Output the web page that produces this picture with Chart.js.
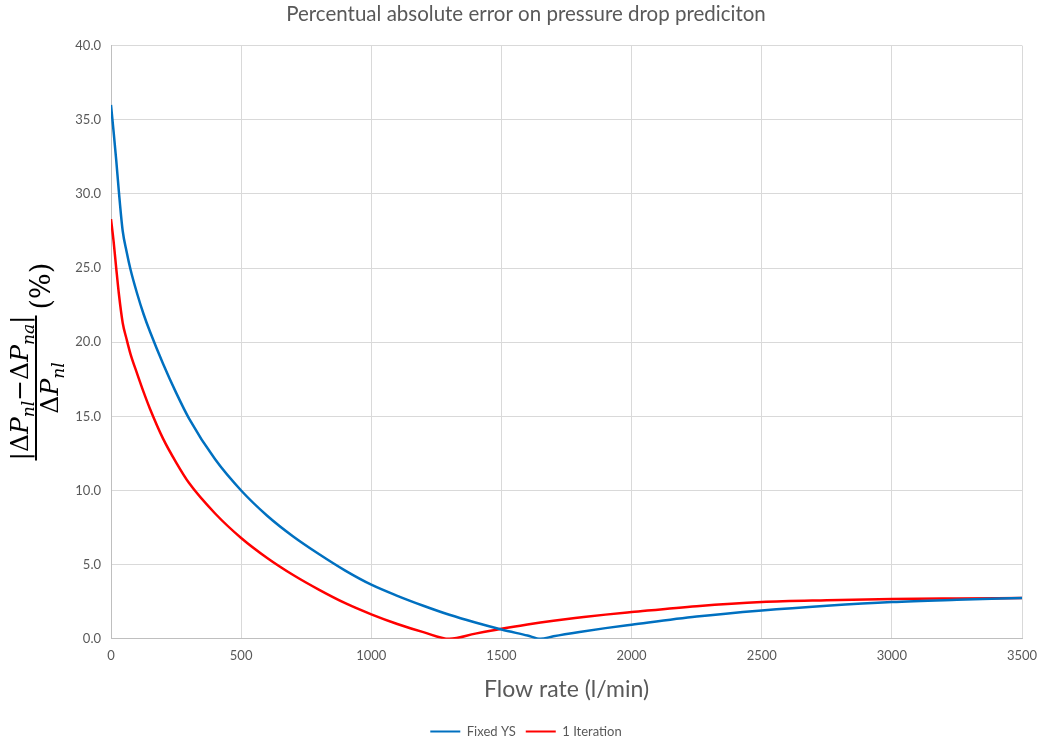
<!DOCTYPE html>
<html>
<head>
<meta charset="utf-8">
<script src="https://cdn.jsdelivr.net/npm/chart.js@4"></script>
<style>
  html, body { margin: 0; padding: 0; background: #fff; }
  #wrap { width: 1042px; height: 742px; }
</style>
</head>
<body>
<div id="wrap"><canvas id="errChart" width="1042" height="742"></canvas></div>
<script>
// Flow rate samples (l/min)
const flowRates = [0, 10, 20, 30, 45, 60, 75, 100, 125, 150, 200, 250, 300, 400, 500, 600, 700, 800, 900, 1000,
    1100, 1200, 1300, 1400, 1500, 1600, 1650, 1700, 1800, 1900, 2000, 2250, 2500, 2750, 3000, 3250, 3500];

// Percentual absolute error (%)
const fixedYS = [36.0, 34.2, 32.3, 30.2, 27.5, 26.1, 24.9, 23.3, 21.9, 20.7, 18.55, 16.6, 14.85, 12.1, 10.0, 8.3, 6.9, 5.7, 4.6, 3.65,
    2.9, 2.23, 1.62, 1.1, 0.63, 0.22, 0.0, 0.17, 0.46, 0.72, 0.95, 1.5, 1.91, 2.23, 2.48, 2.63, 2.75];
const oneIteration = [28.3, 26.8, 25.0, 23.3, 21.3, 20.2, 19.2, 17.9, 16.65, 15.5, 13.5, 11.9, 10.5, 8.45, 6.8, 5.45, 4.3, 3.3, 2.4, 1.65,
    1.0, 0.45, 0.0, 0.35, 0.68, 0.97, 1.1, 1.22, 1.43, 1.63, 1.8, 2.2, 2.48, 2.6, 2.68, 2.72, 2.75];

const seriesNames = ['Fixed YS', '1 Iteration'];
const titleText = 'Percentual absolute error on pressure drop prediciton';
const xTitle = 'Flow rate (l/min)';

const gray = '#595959';

// draws the y axis formula |ΔPnl−ΔPna| / ΔPnl (%) rotated
const yFormula = {
    id: 'yFormula',
    afterDraw(chart) {
        const ctx = chart.ctx;
        const main = 25, sub = 17;
        const reg = s => `${s}px "DejaVu Serif"`;
        const ita = s => `italic ${s}px "DejaVu Serif"`;
        const num = [
            ['|', reg(main), 0], ['Δ', reg(main), 0], ['P', ita(main), 0], ['nl', ita(sub), 6],
            ['−', reg(main), 0], ['Δ', reg(main), 0], ['P', ita(main), 0], ['na', ita(sub), 6], ['|', reg(main), 0]
        ];
        const den = [['Δ', reg(main), 0], ['P', ita(main), 0], ['nl', ita(sub), 6]];
        const width = parts => parts.reduce((w, p) => { ctx.font = p[1]; return w + ctx.measureText(p[0]).width; }, 0);
        const run = (parts, x, y) => {
            parts.forEach(p => {
                ctx.font = p[1];
                ctx.fillText(p[0], x, y + p[2]);
                x += ctx.measureText(p[0]).width;
            });
        };
        ctx.save();
        ctx.translate(36, 388);
        ctx.rotate(-Math.PI / 2);
        ctx.fillStyle = '#000';
        ctx.textBaseline = 'alphabetic';
        const nw = width(num);
        run(num, -nw / 2, -8);
        ctx.fillRect(-nw / 2, -1, nw, 2);
        const dw = width(den);
        run(den, -dw / 2, 22);
        ctx.font = reg(27);
        ctx.fillText('(%)', nw / 2 + 6, 14);
        ctx.restore();
    }
};

const ctx = document.getElementById('errChart').getContext('2d');
new Chart(ctx, {
    type: 'line',
    data: {
        datasets: [
            {
                label: seriesNames[0],
                data: flowRates.map((x, i) => ({ x: x, y: fixedYS[i] })),
                borderColor: '#0070C0',
                backgroundColor: '#0070C0',
                borderWidth: 2.5,
                pointRadius: 0,
                cubicInterpolationMode: 'monotone'
            },
            {
                label: seriesNames[1],
                data: flowRates.map((x, i) => ({ x: x, y: oneIteration[i] })),
                borderColor: '#FF0000',
                backgroundColor: '#FF0000',
                borderWidth: 2.5,
                pointRadius: 0,
                cubicInterpolationMode: 'monotone'
            }
        ]
    },
    options: {
        responsive: false,
        animation: false,
        layout: { padding: { left: 30, right: 20, top: 0, bottom: -6 } },
        plugins: {
            title: {
                display: true,
                text: titleText,
                color: gray,
                font: { family: 'Lato', size: 20.5, weight: 'normal' },
                padding: { top: 2, bottom: 19 }
            },
            legend: {
                position: 'bottom',
                labels: {
                    color: gray,
                    font: { family: 'Lato', size: 13 },
                    boxWidth: 30,
                    boxHeight: 2,
                    padding: 10,
                    generateLabels(chart) {
                        return Chart.defaults.plugins.legend.labels.generateLabels(chart).map(l => {
                            l.lineWidth = 0;
                            return l;
                        });
                    }
                }
            },
            tooltip: { enabled: false }
        },
        scales: {
            x: {
                type: 'linear',
                min: 0,
                max: 3500,
                ticks: { stepSize: 500, color: gray, font: { family: 'Lato', size: 13 }, padding: 9, maxRotation: 0, callback: v => String(v) },
                grid: { color: '#d9d9d9', drawTicks: false },
                border: { color: '#bfbfbf' },
                title: { display: true, text: xTitle, color: gray, font: { family: 'Lato', size: 23 }, padding: { top: 3, bottom: 12 } },
                afterFit(scale) { scale.paddingLeft = 0; scale.paddingRight = 0; }
            },
            y: {
                min: 0,
                max: 40,
                ticks: { stepSize: 5, color: gray, font: { family: 'Lato', size: 13 }, padding: 10, callback: v => v.toFixed(1) },
                grid: { color: '#d9d9d9', drawTicks: false },
                border: { color: '#bfbfbf' },
                afterFit(scale) { scale.width = 81; }
            }
        }
    },
    plugins: [yFormula]
});
</script>
</body>
</html>
